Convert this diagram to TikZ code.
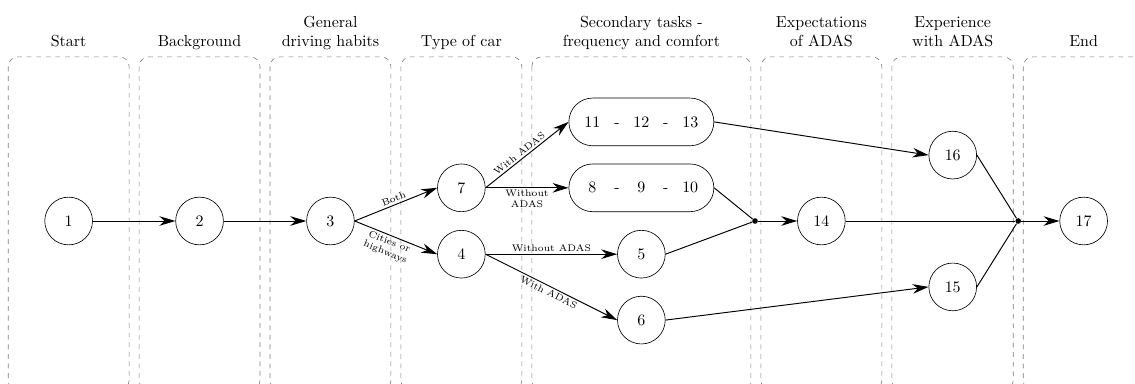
\documentclass[tikz,border=0pt]{standalone}
\usetikzlibrary{arrows.meta}

\newcommand{\tcell}[1]{\makebox[15.3pt]{#1}}

\begin{document}
\begin{tikzpicture}[
	lane/.style={draw=gray, dashed, rounded corners=6pt},
	lanetitle/.style={anchor=south, align=center, inner sep=0pt},
	state/.style={draw, circle, minimum size=1.05cm, inner sep=0pt},
	tasks/.style={draw, rectangle, rounded corners=0.525cm, minimum width=3.19cm, minimum height=1.05cm, inner sep=0pt},
	junction/.style={circle, fill, inner sep=0pt, minimum size=3.5pt},
	flow/.style={semithick, -{Stealth[length=10pt, width=6pt]}},
	link/.style={semithick},
	edgelabel/.style={font=\fontsize{6}{6.8}\selectfont, align=center, inner sep=1.2pt}
]
	\useasboundingbox (0,-3.564) rectangle (24.97,4.862);

	\draw[lane] (0.18,3.61) rectangle (2.84,-3.72);
	\draw[lane] (3.06,3.61) rectangle (5.72,-3.72);
	\draw[lane] (5.94,3.61) rectangle (8.60,-3.72);
	\draw[lane] (8.82,3.61) rectangle (11.48,-3.72);
	\draw[lane] (11.70,3.61) rectangle (16.52,-3.72);
	\draw[lane] (16.74,3.61) rectangle (19.40,-3.72);
	\draw[lane] (19.62,3.61) rectangle (22.29,-3.72);
	\draw[lane] (22.51,3.61) rectangle (25.17,-3.72);

	\node[lanetitle] (tstart) at (1.51,3.70) {Start\strut};
	\node[lanetitle] (tback) at (4.39,3.70) {Background\strut};
	\node[lanetitle] (thabits) at (7.27,3.70) {General\\driving habits\strut};
	\node[lanetitle] (tcar) at (10.15,3.70) {Type of car\strut};
	\node[lanetitle] (tsec) at (14.11,3.70) {Secondary tasks -\\frequency and comfort\strut};
	\node[lanetitle] (texpect) at (18.07,3.70) {Expectations\\of ADAS\strut};
	\node[lanetitle] (texper) at (20.96,3.70) {Experience\\with ADAS\strut};
	\node[lanetitle] (tend) at (23.84,3.70) {End\strut};

	\node[state] (n1) at (1.51,0) {1};
	\node[state] (n2) at (4.39,0) {2};
	\node[state] (n3) at (7.27,0) {3};
	\node[state] (n7) at (10.15,0.73) {7};
	\node[state] (n4) at (10.15,-0.73) {4};
	\node[tasks] (n11) at (14.11,2.18) {\tcell{11}\tcell{-}\tcell{12}\tcell{-}\tcell{13}};
	\node[tasks] (n8) at (14.11,0.73) {\tcell{8}\tcell{-}\tcell{9}\tcell{-}\tcell{10}};
	\node[state] (n5) at (14.11,-0.73) {5};
	\node[state] (n6) at (14.11,-2.18) {6};
	\node[junction] (j1) at (16.61,0) {};
	\node[state] (n14) at (18.07,0) {14};
	\node[state] (n16) at (20.96,1.45) {16};
	\node[state] (n15) at (20.96,-1.45) {15};
	\node[junction] (j2) at (22.40,0) {};
	\node[state] (n17) at (23.84,0) {17};

	\draw[flow] (n1) -- (n2);
	\draw[flow] (n2) -- (n3);
	\draw[flow] (n3.east) -- node[edgelabel, above, sloped] (lboth) {Both} (n7.west);
	\draw[flow] (n3.east) -- node[edgelabel, below, sloped, pos=0.45] (lcities) {Cities or\\highways} (n4.west);
	\draw[flow] (n7.east) -- node[edgelabel, above, sloped, pos=0.45] (lwith1) {With ADAS} (n11.west);
	\draw[flow] (n7.east) -- node[edgelabel, below] (lwithout1) {Without\\ADAS} (n8.west);
	\draw[flow] (n4.east) -- node[edgelabel, above] (lwithout2) {Without ADAS} (n5.west);
	\draw[flow] (n4.east) -- node[edgelabel, below, sloped] (lwith2) {With ADAS} (n6.west);
	\draw[link] (n8.east) -- (j1);
	\draw[link] (n5.east) -- (j1);
	\draw[flow] (j1) -- (n14);
	\draw[flow] (n11.east) -- (n16.west);
	\draw[flow] (n6.east) -- (n15.west);
	\draw[link] (n16.east) -- (j2);
	\draw[link] (n14) -- (j2);
	\draw[link] (n15.east) -- (j2);
	\draw[flow] (j2) -- (n17);
\end{tikzpicture}
\end{document}
